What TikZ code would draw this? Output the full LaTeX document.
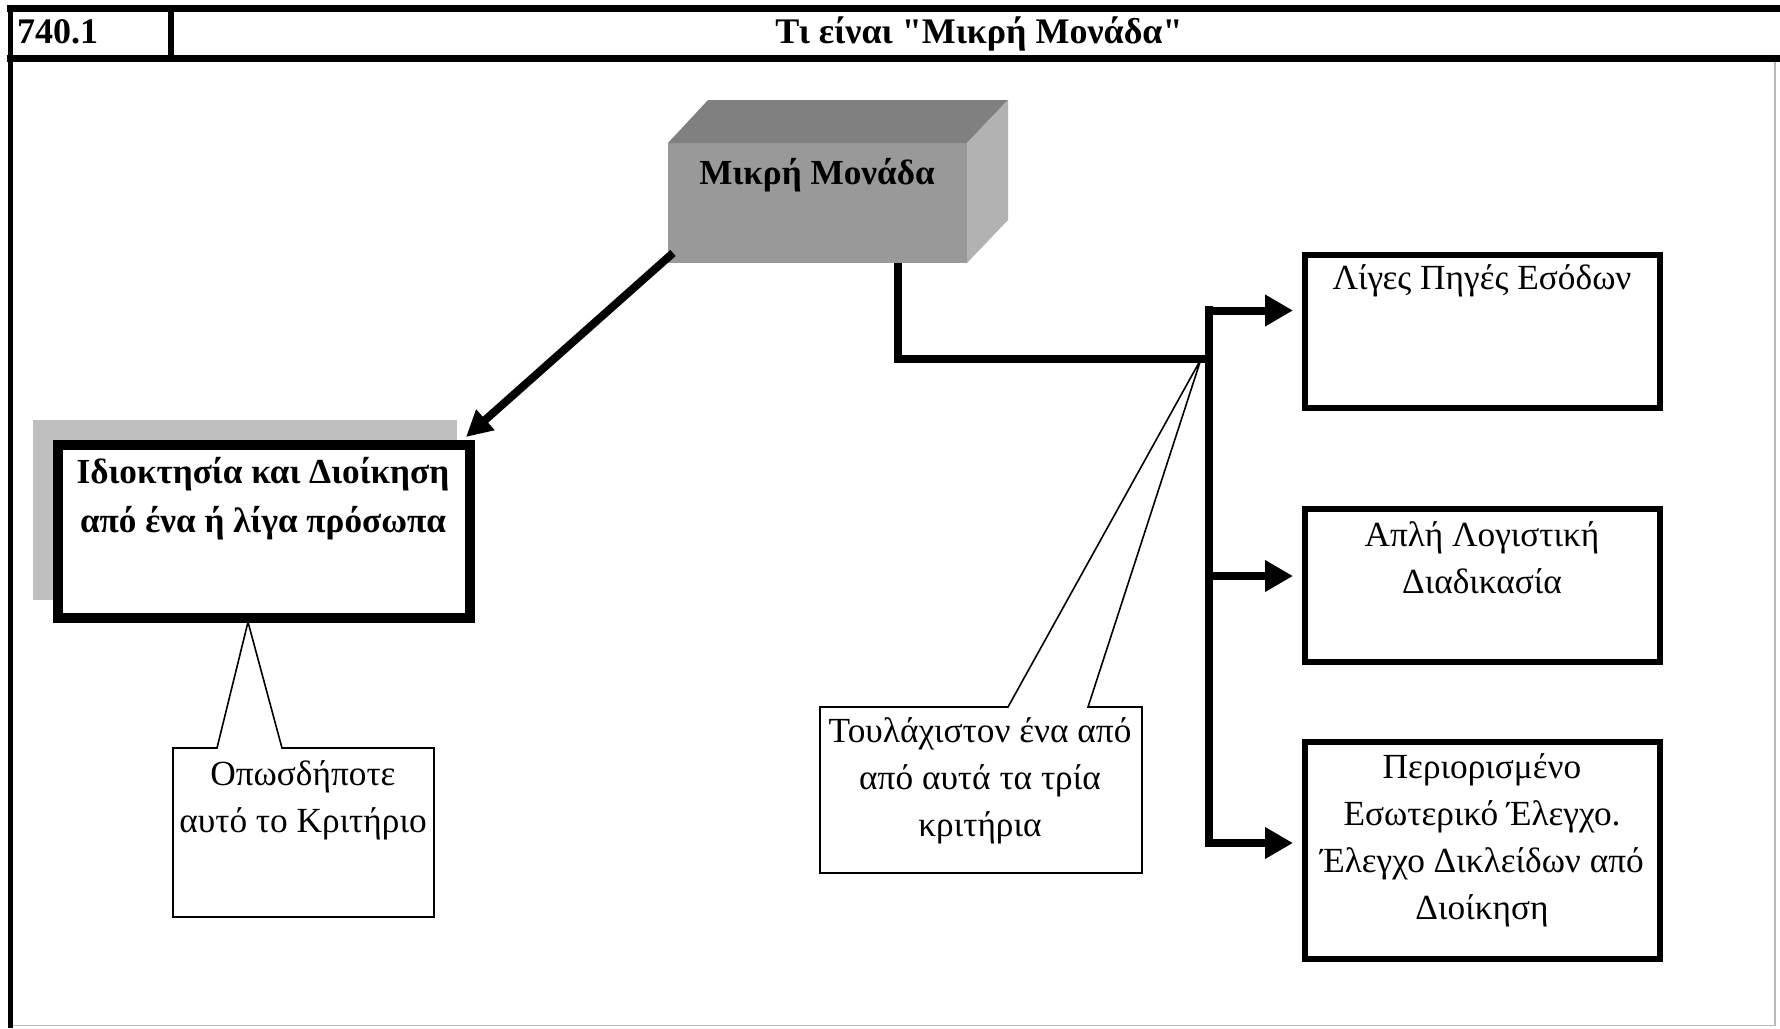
\documentclass[tikz,border=0pt]{standalone}
\usepackage{fontspec}
\setmainfont{Liberation Serif}[Ligatures=TeXOff]
\usetikzlibrary{arrows.meta,calc}
\definecolor{cubefront}{gray}{0.60}
\definecolor{cubetop}{gray}{0.50}
\definecolor{cuberight}{gray}{0.70}
\definecolor{shadowgray}{gray}{0.75}
\begin{document}
\begin{tikzpicture}[x=1pt,y=-1pt,
  boldtxt/.style={font=\fontsize{35.2}{49}\selectfont\bfseries,align=center,inner sep=0pt},
  titletxt/.style={font=\fontsize{36}{40}\selectfont\bfseries,inner sep=0pt},
  regtxt/.style={font=\fontsize{35.3}{47}\selectfont,align=center,inner sep=0pt},
  critbox/.style={draw,line width=6pt,fill=white,minimum width=355pt,inner sep=0pt},
  conn/.style={line width=8pt},
  bigarrow/.style={line width=8pt,-{Triangle[length=28pt,width=30pt]}},
  callout/.style={line width=1.6pt,line join=miter}
]
\fill[white] (0,0) rectangle (1780,1028);
\useasboundingbox (0,0) rectangle (1780,1028);
% outer frame and title row
\draw[gray!55,line width=1.5pt] (1775,58) -- (1775,1025.5) -- (10,1025.5);
\draw[line width=7pt] (7,8.5) -- (1780,8.5);
\draw[line width=7pt] (7,58.5) -- (1780,58.5);
\draw[line width=5pt] (10.5,5) -- (10.5,1028);
\draw[line width=6pt] (171,8) -- (171,58);
\node[titletxt,anchor=base west] (num) at (17,43) {740.1};
\node[titletxt,anchor=base] (title) at (979,43) {Τι είναι "Μικρή Μονάδα"};
% cube
\node[fill=cubefront,minimum width=299pt,minimum height=120pt,inner sep=0pt,outer sep=0pt] (cube) at (817.5,203) {};
\fill[cubetop] (cube.north west) -- ++(40,-43) -- ++(300,0) -- (cube.north east) -- cycle;
\fill[cuberight] (cube.north east) -- ++(41,-43) -- ++(0,120) -- (cube.south east) -- cycle;
\node[boldtxt] (cubetxt) at (817,175) {Μικρή Μονάδα};
% left box
\fill[shadowgray] (33,420) rectangle (457,600);
\node[draw,line width=10pt,fill=white,minimum width=412pt,minimum height=173pt,inner sep=0pt] (own) at (264,531.5) {};
\node[boldtxt] (owntxt) at (263,499) {Ιδιοκτησία και Διοίκηση\\από ένα ή λίγα πρόσωπα};
\draw[conn,-{Triangle[length=26pt,width=26pt]}] ([shift={(5,-10)}]cube.south west) -- ([shift={(-9,-3)}]own.north east);
% right boxes
\node[critbox,minimum height=153pt] (b1) at (1482.5,331.5) {};
\node[critbox,minimum height=153pt] (b2) at (1482.5,585.5) {};
\node[critbox,minimum height=217pt] (b3) at (1482.5,850.5) {};
\node[regtxt] (b1t) at (1482,281) {Λίγες Πηγές Εσόδων};
\node[regtxt] (b2t) at (1482,558) {Απλή Λογιστική\\Διαδικασία};
\node[regtxt] (b3t) at (1482,840) {Περιορισμένο\\Εσωτερικό Έλεγχο.\\Έλεγχο Δικλείδων από\\Διοίκηση};
% connectors
\coordinate (elbow) at (898,359);
\coordinate (junc) at (1209,359);
\coordinate (bustop) at (1209,306);
\coordinate (busbot) at (1209,847);
\draw[conn,line join=miter] (cube.south -| elbow) -- (elbow) -- (junc);
\draw[conn] (bustop) -- (busbot);
\coordinate (a1) at ($(b1.west)+(-9,-21)$);
\coordinate (a2) at ($(b2.west)+(-9,-9.5)$);
\coordinate (a3) at ($(b3.west)+(-9,-7.5)$);
\draw[bigarrow] ([xshift=-4pt]a1 -| bustop) -- (a1);
\draw[bigarrow] ([xshift=-4pt]a2 -| bustop) -- (a2);
\draw[bigarrow] ([xshift=-4pt]a3 -| bustop) -- (a3);
% callouts
\draw[callout] (173,748) -- (217,748) -- ([shift={(-1,-1)}]own.south -| 249,0) -- (282,748) -- (434,748) -- (434,917) -- (173,917) -- cycle;
\node[regtxt] (co1) at (303,800) {Οπωσδήποτε\\αυτό το Κριτήριο};
\draw[callout] (820,707) -- (1008,707) -- ([xshift=-8pt]junc) -- (1088,707) -- (1142,707) -- (1142,873) -- (820,873) -- cycle;
\node[regtxt] (co2) at (980,781) {Τουλάχιστον ένα από\\από αυτά τα τρία\\κριτήρια};
\end{tikzpicture}
\end{document}
